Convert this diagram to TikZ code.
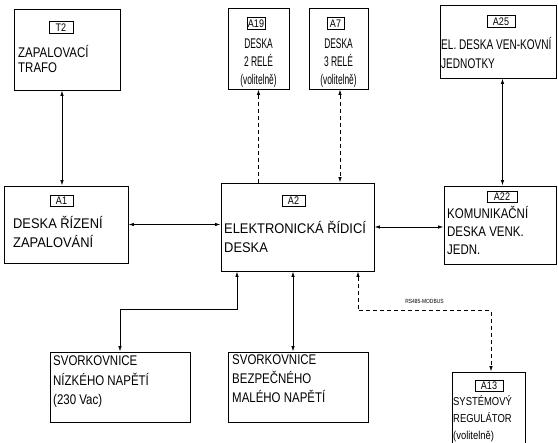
\documentclass[tikz,border=0pt]{standalone}
\usepackage{fontspec}
\setmainfont{Liberation Sans}
\newfontfamily\wideface[FakeStretch=0.92]{Liberation Sans}
\newfontfamily\narrowface[FakeStretch=0.82]{Liberation Sans}
\newfontfamily\slimface[FakeStretch=0.72]{Liberation Sans}
\newfontfamily\thinface[FakeStretch=0.6]{Liberation Sans}
\usetikzlibrary{arrows.meta}

\begin{document}
\begin{tikzpicture}[x=1pt, y=-1pt, >={Latex[length=5.5pt,width=3.5pt]},
    box/.style={draw=black, line width=0.9pt, inner sep=0pt},
    tag/.style={draw=black, line width=0.7pt, inner sep=0pt, minimum height=11.5pt,
        font=\narrowface\fontsize{11}{12}\selectfont},
    txt/.style={inner sep=0pt, anchor=base west, align=left},
    ctxt/.style={inner sep=0pt, anchor=base, align=center},
    link/.style={line width=0.8pt, <->},
    optlink/.style={link, dash pattern=on 4pt off 3pt}]
    \useasboundingbox (0,0) rectangle (558,443);

    % upper row (text nodes sit on the baseline of their last line)
    \node[box, minimum width=106pt, minimum height=81pt] (t2) at (67.5,49.5) {};
    \node[tag, minimum width=24pt] (t2tag) at (61,27.5) {T2};
    \node[txt, font=\narrowface\fontsize{14}{15}\selectfont] (t2txt) at (18,72.3) {ZAPALOVACÍ\\TRAFO};

    \node[box, minimum width=61pt, minimum height=81pt] (a19) at (258.5,48.5) {};
    \node[tag, minimum width=18pt] (a19tag) at (256,23.5) {A19};
    \node[ctxt, font=\thinface\fontsize{14}{18}\selectfont] (a19txt) at (258.5,84.3) {DESKA\\2 RELÉ\\(volitelně)};

    \node[box, minimum width=59pt, minimum height=81pt] (a7) at (338.5,48.5) {};
    \node[tag, minimum width=17pt] (a7tag) at (335.5,23.5) {A7};
    \node[ctxt, font=\thinface\fontsize{14}{18}\selectfont] (a7txt) at (338.5,84.3) {DESKA\\3 RELÉ\\(volitelně)};

    \node[box, minimum width=116pt, minimum height=73pt] (a25) at (498,41.5) {};
    \node[tag, minimum width=28pt] (a25tag) at (501,21.5) {A25};
    \node[txt, font=\slimface\fontsize{14}{19}\selectfont] (a25txt) at (441,68.3) {EL. DESKA VEN-KOVNÍ\\JEDNOTKY};

    % middle row
    \node[box, minimum width=124pt, minimum height=77pt] (a1) at (66,224.5) {};
    \node[tag, minimum width=23pt] (a1tag) at (61.5,201) {A1};
    \node[txt, font=\wideface\fontsize{14}{19}\selectfont] (a1txt) at (13,247.3) {DESKA ŘÍZENÍ\\ZAPALOVÁNÍ};

    \node[box, minimum width=153pt, minimum height=88pt] (a2) at (297.5,227) {};
    \node[tag, minimum width=23pt] (a2tag) at (293.5,201) {A2};
    \node[txt, font=\wideface\fontsize{14}{19}\selectfont] (a2txt) at (224,253) {ELEKTRONICKÁ ŘÍDICÍ\\DESKA};

    \node[box, minimum width=112pt, minimum height=78pt] (a22) at (500,225) {};
    \node[tag, minimum width=30pt] (a22tag) at (502,197) {A22};
    \node[txt, font=\narrowface\fontsize{14}{18}\selectfont] (a22txt) at (447,254.5) {KOMUNIKAČNÍ\\DESKA VENK.\\JEDN.};

    % lower row
    \node[box, minimum width=140pt, minimum height=70pt] (low) at (120,387) {};
    \node[txt, font=\narrowface\fontsize{14}{19.5}\selectfont] (lowtxt) at (53,405) {SVORKOVNICE\\NÍZKÉHO NAPĚTÍ\\(230 Vac)};

    \node[box, minimum width=140pt, minimum height=70pt] (safe) at (298,387) {};
    \node[txt, font=\narrowface\fontsize{14}{19}\selectfont] (safetxt) at (232,403) {SVORKOVNICE\\BEZPEČNÉHO\\MALÉHO NAPĚTÍ};

    \node[box, minimum width=73pt, minimum height=80pt] (a13) at (488.5,412) {};
    \node[tag, minimum width=28pt] (a13tag) at (489,386) {A13};
    \node[txt, font=\narrowface\fontsize{11.5}{17}\selectfont] (a13txt) at (453,440) {SYSTÉMOVÝ\\REGULÁTOR\\(volitelně)};

    % connections
    \draw[link] ([xshift=-5.5pt]t2.south) -- ([xshift=-5.5pt]t2.south |- a1.north);
    \draw[link] (a1.east) -- (a1.east -| a2.west);
    \draw[link] (a2.east) -- (a2.east -| a22.west);
    \draw[link] ([xshift=4.5pt]a25.south) -- ([xshift=4.5pt]a25.south |- a22.north);
    \draw[optlink, <-] (a19.south) -- (a19.south |- a2.north);
    \draw[optlink] ([xshift=1.5pt]a7.south) -- ([xshift=1.5pt]a7.south |- a2.north);
    \draw[link] ([xshift=-60.5pt]a2.south) -- ++(0,38) -| (low.north);
    \draw[link] ([xshift=-5pt]safe.north) -- ([xshift=-5pt]safe.north |- a2.south);
    \draw[optlink] ([xshift=60.5pt]a2.south) -- ++(0,39) -| ([xshift=2.5pt]a13.north)
        node[pos=0.25, above=6pt, inner sep=0pt, font=\narrowface\fontsize{6}{7}\selectfont] (modbus) {RS485-MODBUS};
\end{tikzpicture}
\end{document}
